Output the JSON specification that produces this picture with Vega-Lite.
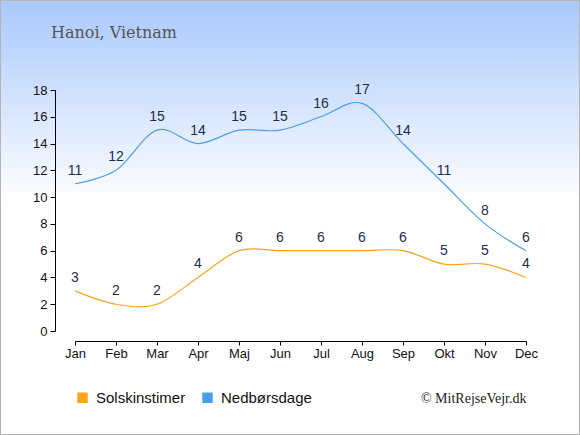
{
  "$schema": "https://vega.github.io/schema/vega-lite/v6.json",
  "width": 580,
  "height": 435,
  "autosize": {"type": "none"},
  "padding": 0,
  "config": {
    "view": {
      "fill": {"gradient": "linear", "x1": 0, "y1": 0, "x2": 0, "y2": 1,
        "stops": [{"offset": 0, "color": "#a8c8fc"}, {"offset": 0.47, "color": "#ffffff"}, {"offset": 1, "color": "#ffffff"}]},
      "stroke": "#b4b4b4",
      "strokeWidth": 2
    },
    "axis": {
      "domainColor": "#000000",
      "tickColor": "#000000",
      "labelColor": "#111111",
      "labelFont": "Liberation Sans",
      "labelFontSize": 13,
      "grid": false
    }
  },
  "title": {
    "text": "Hanoi, Vietnam",
    "anchor": "start",
    "frame": "group",
    "orient": "top",
    "offset": 0,
    "dx": 51,
    "dy": 54,
    "baseline": "alphabetic",
    "font": "DejaVu Serif",
    "fontSize": 16,
    "fontWeight": "normal",
    "color": "#555555"
  },
  "data": {
    "values": [
      {"month": "Jan", "series": "Solskinstimer", "value": 3},
      {"month": "Feb", "series": "Solskinstimer", "value": 2},
      {"month": "Mar", "series": "Solskinstimer", "value": 2},
      {"month": "Apr", "series": "Solskinstimer", "value": 4},
      {"month": "Maj", "series": "Solskinstimer", "value": 6},
      {"month": "Jun", "series": "Solskinstimer", "value": 6},
      {"month": "Jul", "series": "Solskinstimer", "value": 6},
      {"month": "Aug", "series": "Solskinstimer", "value": 6},
      {"month": "Sep", "series": "Solskinstimer", "value": 6},
      {"month": "Okt", "series": "Solskinstimer", "value": 5},
      {"month": "Nov", "series": "Solskinstimer", "value": 5},
      {"month": "Dec", "series": "Solskinstimer", "value": 4},
      {"month": "Jan", "series": "Nedbørsdage", "value": 11},
      {"month": "Feb", "series": "Nedbørsdage", "value": 12},
      {"month": "Mar", "series": "Nedbørsdage", "value": 15},
      {"month": "Apr", "series": "Nedbørsdage", "value": 14},
      {"month": "Maj", "series": "Nedbørsdage", "value": 15},
      {"month": "Jun", "series": "Nedbørsdage", "value": 15},
      {"month": "Jul", "series": "Nedbørsdage", "value": 16},
      {"month": "Aug", "series": "Nedbørsdage", "value": 17},
      {"month": "Sep", "series": "Nedbørsdage", "value": 14},
      {"month": "Okt", "series": "Nedbørsdage", "value": 11},
      {"month": "Nov", "series": "Nedbørsdage", "value": 8},
      {"month": "Dec", "series": "Nedbørsdage", "value": 6}
    ]
  },
  "encoding": {
    "x": {
      "field": "month",
      "type": "ordinal",
      "sort": ["Jan", "Feb", "Mar", "Apr", "Maj", "Jun", "Jul", "Aug", "Sep", "Okt", "Nov", "Dec"],
      "scale": {"type": "point", "range": [75, 526], "padding": 0},
      "axis": {
        "orient": "bottom",
        "offset": -94,
        "labelAngle": 0,
        "tickSize": 4,
        "labelPadding": 2,
        "title": "© MitRejseVejr.dk",
        "titleFont": "Liberation Serif",
        "titleFontSize": 14,
        "titleFontWeight": "normal",
        "titleColor": "#222222",
        "titleAlign": "right",
        "titleAnchor": "end",
        "titleBaseline": "alphabetic",
        "titleX": 526,
        "titleY": 61
      }
    },
    "y": {
      "field": "value",
      "type": "quantitative",
      "scale": {"domain": [0, 18], "range": [331, 90], "nice": false, "zero": false},
      "axis": {
        "orient": "left",
        "offset": -55,
        "values": [0, 2, 4, 6, 8, 10, 12, 14, 16, 18],
        "tickSize": 5,
        "labelPadding": 3,
        "title": null
      }
    }
  },
  "layer": [
    {
      "mark": {"type": "line", "interpolate": "cardinal", "strokeWidth": 1.2},
      "encoding": {
        "color": {
          "field": "series",
          "type": "nominal",
          "scale": {"domain": ["Solskinstimer", "Nedbørsdage"], "range": ["#ffa21f", "#4a9fec"]},
          "legend": {
            "orient": "none",
            "legendX": 75,
            "legendY": 390,
            "direction": "horizontal",
            "title": null,
            "symbolType": "square",
            "symbolSize": 110,
            "symbolStrokeWidth": 0,
            "labelFont": "Liberation Sans",
            "labelFontSize": 15,
            "labelColor": "#111111",
            "labelOffset": 6,
            "columnPadding": 14,
            "encode": {
              "symbols": {"update": {"fill": {"scale": "color", "field": "value"}, "strokeWidth": {"value": 0}}}
            }
          }
        }
      }
    },
    {
      "mark": {"type": "text", "dy": -9, "baseline": "alphabetic", "align": "center", "font": "Liberation Sans", "fontSize": 14, "color": "#1f2d4a"},
      "encoding": {
        "text": {"field": "value", "type": "quantitative"}
      }
    }
  ]
}
